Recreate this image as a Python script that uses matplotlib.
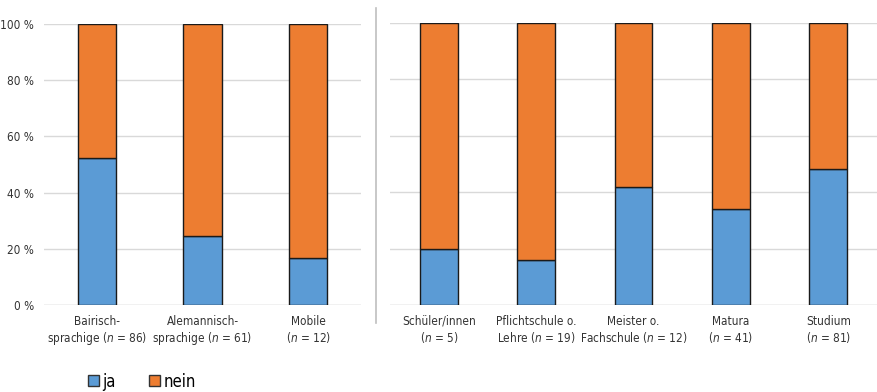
import matplotlib.pyplot as plt
from matplotlib.patches import Patch

plt.rcParams['font.family'] = ['DejaVu Sans']
plt.rcParams['font.stretch'] = 'condensed'
plt.rcParams['mathtext.fontset'] = 'custom'
plt.rcParams['mathtext.it'] = 'DejaVu Sans:italic:stretch=condensed'
plt.rcParams['mathtext.rm'] = 'DejaVu Sans:stretch=condensed'

# Sprachgruppen
groups = ['Bairisch-\nsprachige ($n$ = 86)', 'Alemannisch-\nsprachige ($n$ = 61)', 'Mobile\n($n$ = 12)']
groups_ja = [52.3, 24.6, 16.7]
groups_nein = [47.7, 75.4, 83.3]

# Bildungsabschluss
edu = ['Schüler/innen\n($n$ = 5)', 'Pflichtschule o.\nLehre ($n$ = 19)', 'Meister o.\nFachschule ($n$ = 12)',
       'Matura\n($n$ = 41)', 'Studium\n($n$ = 81)']
edu_ja = [20.0, 15.8, 41.7, 34.1, 48.1]
edu_nein = [80.0, 84.2, 58.3, 65.9, 51.9]

yticks = [0, 20, 40, 60, 80, 100]
blue = '#5B9BD5'
orange = '#ED7D31'

fig = plt.figure(figsize=(8.77, 3.92), dpi=100)
ax1 = fig.add_axes([44 / 877, 87 / 392, 317 / 877, 281 / 392])
ax2 = fig.add_axes([390 / 877, 87 / 392, 487 / 877, 282 / 392])


def draw(ax, labels, ja, nein, width, show_y):
    x = range(len(labels))
    ax.bar(x, ja, width=width, color=blue, edgecolor='#1a1a1a', linewidth=1, zorder=3)
    ax.bar(x, nein, bottom=ja, width=width, color=orange, edgecolor='#1a1a1a', linewidth=1, zorder=3)
    ax.set_xlim(-0.5, len(labels) - 0.5)
    ax.set_ylim(0, 100)
    ax.set_yticks(yticks)
    ax.grid(axis='y', color='#d9d9d9', linewidth=1, zorder=0)
    for s in ax.spines.values():
        s.set_visible(False)
    ax.axhline(0, color='#d9d9d9', linewidth=1, zorder=1)
    ax.set_xticks(list(x))
    ax.set_xticklabels(labels, fontsize=8.5, color='#333333', linespacing=1.2)
    ax.tick_params(length=0, pad=7)
    if show_y:
        ax.set_yticklabels([f'{v} %' for v in yticks], fontsize=8.5, color='#333333')
    else:
        ax.set_yticklabels([])


draw(ax1, groups, groups_ja, groups_nein, 0.36, True)
draw(ax2, edu, edu_ja, edu_nein, 0.39, False)

# Trennlinie zwischen den beiden Teilen
fig.add_artist(plt.Line2D([376 / 877, 376 / 877], [1 - 8 / 392, 1 - 323 / 392],
                          color='#bfbfbf', linewidth=1.2))

handles = [Patch(facecolor=blue, edgecolor='#333333', label='ja'),
           Patch(facecolor=orange, edgecolor='#333333', label='nein')]
fig.legend(handles=handles, loc='lower left', bbox_to_anchor=(80 / 877, -7 / 392), ncol=2,
           frameon=False, fontsize=12, handlelength=0.65, handleheight=0.65, borderpad=0,
           handletextpad=0.2, columnspacing=2.0)

fig.savefig('out.png', dpi=100)
